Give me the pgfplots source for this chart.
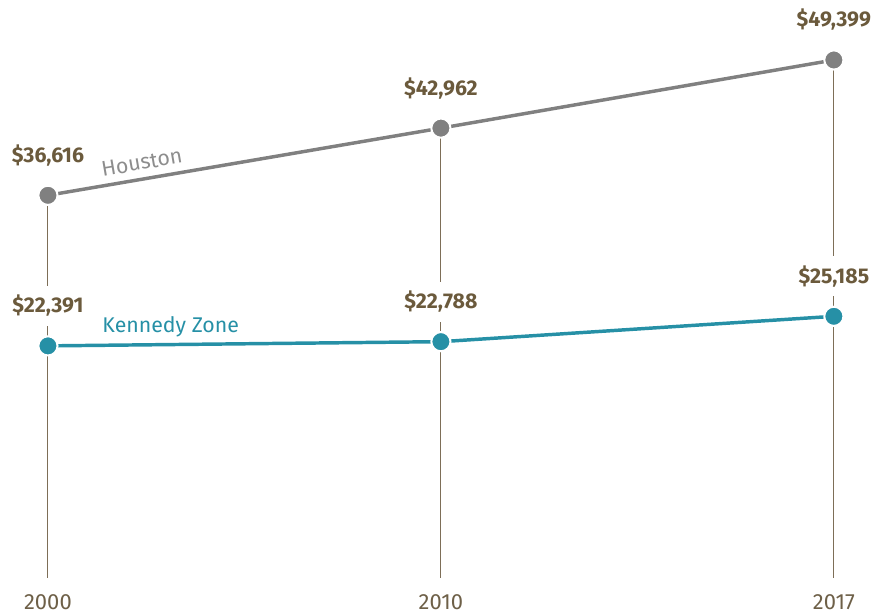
\documentclass[border=0pt]{standalone}
\usepackage{pgfplots}
\pgfplotsset{compat=1.18}
\usepackage{fontspec}
\setmainfont{Fira Sans}
\definecolor{hgrey}{HTML}{808080}
\definecolor{teal2}{HTML}{2690A6}
\definecolor{lbrown}{HTML}{6B5A3C}
\definecolor{vline}{HTML}{7D6E57}
\definecolor{ybrown}{HTML}{6E6048}
\begin{document}
\begin{tikzpicture}
\begin{axis}[
  scale only axis,
  width=653.25pt, height=437.25pt,
  xmin=-0.122, xmax=2.0915,
  ymin=0, ymax=55000,
  clip=false,
  axis line style={draw=none},
  major tick length=0pt,
  ytick=\empty,
  xtick={0,1,2},
  xticklabels={2000,2010,2017},
  xticklabel style={font=\fontsize{16.5}{19}\selectfont, text=ybrown, yshift=-5pt},
  lbl/.style={nodes near coords,
    point meta=explicit symbolic,
    every node near coord/.style={font=\bfseries\fontsize{16}{19}\selectfont, text=lbrown, fill=white, inner xsep=0pt, inner ysep=7pt, anchor=center, yshift=30pt}},
]
% vertical guide lines
\addplot[vline, line width=0.75pt, no marks] coordinates {(0,470) (0,36616)};
\addplot[vline, line width=0.75pt, no marks] coordinates {(1,470) (1,42962)};
\addplot[vline, line width=0.75pt, no marks] coordinates {(2,470) (2,49399)};
% Houston
\addplot[hgrey, line width=2.6pt, mark=*, mark size=7.2pt, lbl,
  mark options={fill=hgrey, draw=white, line width=1.5pt}]
  coordinates {(0,36616) [\$36,616] (1,42962) [\$42,962] (2,49399) [\$49,399]};
% Kennedy Zone
\addplot[teal2, line width=2.6pt, mark=*, mark size=7.2pt, lbl,
  mark options={fill=teal2, draw=white, line width=1.5pt}]
  coordinates {(0,22391) [\$22,391] (1,22788) [\$22,788] (2,25185) [\$25,185]};
\node[text=hgrey!90, rotate=9.8, font=\fontsize{16}{18}\selectfont] at (axis cs:0.239,39717) {Houston};
\node[text=teal2, font=\fontsize{16}{18}\selectfont] at (axis cs:0.3125,24150) {Kennedy Zone};
\end{axis}
\end{tikzpicture}
\end{document}
